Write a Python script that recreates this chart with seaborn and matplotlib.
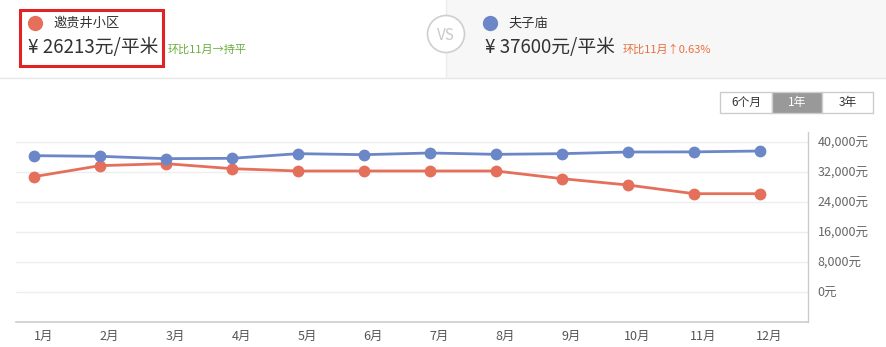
import matplotlib
matplotlib.use("Agg")
import matplotlib.pyplot as plt
import seaborn as sns
import pandas as pd
from matplotlib.patches import Rectangle, Ellipse

sns.set_theme(style="white")
plt.rcParams['font.family'] = ['Noto Sans CJK SC', 'DejaVu Sans']

months = ["1月", "2月", "3月", "4月", "5月", "6月", "7月", "8月", "9月", "10月", "11月", "12月"]
series_a_name = "邀贵井小区"
series_b_name = "夫子庙"
series_a = [30760, 33690, 34220, 32890, 32270, 32270, 32270, 32270, 30220, 28530, 26213, 26213]
series_b = [36360, 36180, 35560, 35650, 36890, 36620, 37070, 36710, 36890, 37330, 37364, 37600]
y_ticks = [0, 8000, 16000, 24000, 32000, 40000]
y_tick_labels = ["0元", "8,000元", "16,000元", "24,000元", "32,000元", "40,000元"]

RED = "#E4705C"
BLUE = "#6B87C7"

W, H = 886, 347
fig = plt.figure(figsize=(W / 100, H / 100), dpi=100)

def fx(x):
    return x / W

def fy(y):
    return 1 - y / H

# Header background panels
fig.patches.append(Rectangle((fx(446), fy(78)), fx(W - 446), 78 / H, transform=fig.transFigure,
                             facecolor="#f7f7f7", edgecolor="none", zorder=0))
fig.add_artist(plt.Line2D([0, 1], [fy(78), fy(78)], transform=fig.transFigure, color="#e6e6e6", lw=1))
fig.add_artist(plt.Line2D([fx(446), fx(446)], [fy(0), fy(78)], transform=fig.transFigure, color="#ececec", lw=1))

# VS circle
fig.add_artist(Ellipse((fx(446), fy(34)), 37 / W, 37 / H, transform=fig.transFigure, facecolor="white",
                       edgecolor="#cfcfcf", lw=1.2, zorder=3))
fig.text(fx(446), fy(35), "VS", ha="center", va="center", fontsize=11, color="#c8c8c8",
         zorder=4)

# Left header
fig.add_artist(Rectangle((fx(20), fy(66)), fx(143), 56 / H, transform=fig.transFigure,
                         facecolor="none", edgecolor="#e02424", lw=2.2, zorder=3))
fig.add_artist(plt.Line2D([fx(35)], [fy(23)], marker="o", markersize=10, color=RED,
                          transform=fig.transFigure, lw=0))
fig.text(fx(53), fy(23), series_a_name, ha="left", va="center", fontsize=9.5, color="#333333")
fig.text(fx(28), fy(48), "¥ 26213元/平米", ha="left", va="center", fontsize=13.5, color="#333333")
fig.text(fx(168), fy(50), "环比11月→持平", ha="left", va="center", fontsize=8, color="#6aae3c")

# Right header
fig.add_artist(plt.Line2D([fx(490)], [fy(23)], marker="o", markersize=10, color=BLUE,
                          transform=fig.transFigure, lw=0))
fig.text(fx(508), fy(23), series_b_name, ha="left", va="center", fontsize=9.5, color="#333333")
fig.text(fx(485), fy(48), "¥ 37600元/平米", ha="left", va="center", fontsize=13.5, color="#333333")
fig.text(fx(623), fy(50), "环比11月↑0.63%", ha="left", va="center", fontsize=8, color="#e8703e")

# Buttons
buttons = [("6个月", 720, 772, False), ("1年", 772, 822, True), ("3年", 822, 873, False)]
for label, x0, x1, active in buttons:
    fig.add_artist(Rectangle((fx(x0), fy(113)), fx(x1 - x0), 21 / H, transform=fig.transFigure,
                             facecolor="#999999" if active else "white", edgecolor="#cccccc", lw=1))
    fig.text(fx((x0 + x1) / 2), fy(102.5), label, ha="center", va="center", fontsize=8.5,
             color="white" if active else "#333333")

# Chart axes
ax = fig.add_axes([fx(16), fy(322), fx(808 - 16), (322 - 132) / H])
df = pd.DataFrame({
    "x": list(range(12)) * 2,
    "value": series_a + series_b,
    "name": [series_a_name] * 12 + [series_b_name] * 12,
})
sns.lineplot(data=df, x="x", y="value", hue="name", palette=[RED, BLUE], marker="o",
             markersize=8.5, markeredgewidth=0, linewidth=2, ax=ax, legend=False)

px = 8000 / 30
ax.set_ylim(-8000, -8000 + 190 * px)
ax.set_xlim(-18 / 66, 12 - 18 / 66)
for t in y_ticks:
    ax.axhline(t, color="#eeeeee", lw=1, zorder=0)
ax.set_yticks(y_ticks)
ax.set_yticklabels(y_tick_labels)
ax.yaxis.tick_right()
ax.tick_params(axis="y", length=0, pad=7, labelsize=9, labelcolor="#666666")
ax.set_xticks([i + 0.14 for i in range(12)])
ax.set_xticklabels(months)
ax.tick_params(axis="x", length=0, pad=6, labelsize=9, labelcolor="#555555")
ax.set_xlabel("")
ax.set_ylabel("")
for s in ["top", "left"]:
    ax.spines[s].set_visible(False)
ax.spines["bottom"].set_color("#cccccc")
ax.spines["right"].set_color("#cccccc")
ax.spines["bottom"].set_linewidth(1.2)
ax.spines["right"].set_linewidth(1)
ax.grid(False)

fig.savefig("out.png", dpi=100)
